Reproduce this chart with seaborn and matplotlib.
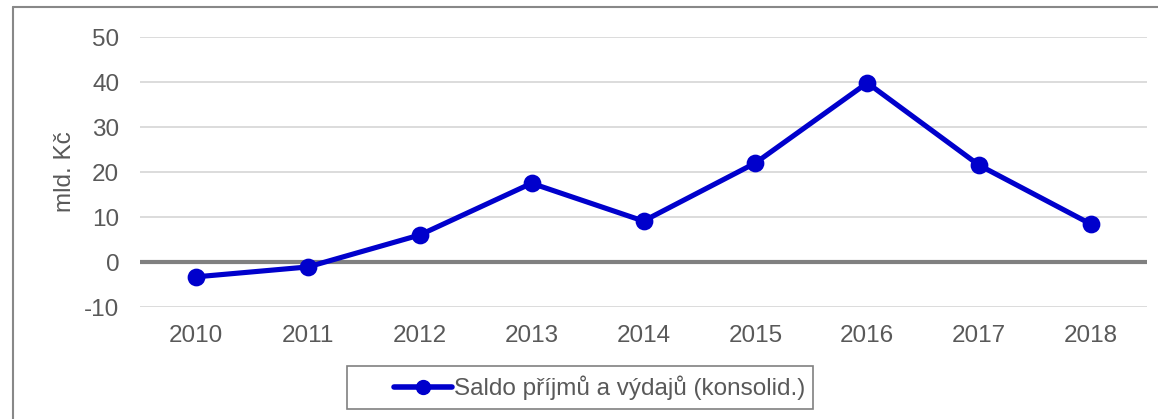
import matplotlib.pyplot as plt
import pandas as pd
import seaborn as sns
from matplotlib.lines import Line2D
from matplotlib.patches import Rectangle

years = ['2010', '2011', '2012', '2013', '2014', '2015', '2016', '2017', '2018']
saldo = [-3.3, -1.1, 6.0, 17.5, 9.1, 22.0, 39.8, 21.5, 8.4]
series_name = 'Saldo příjmů a výdajů (konsolid.)'

df = pd.DataFrame({'year': years, 'value': saldo})

sns.set_theme(style='white')
plt.rcParams['font.family'] = ['Liberation Sans', 'DejaVu Sans']
plt.rcParams['axes.unicode_minus'] = False

grey_text = '#595959'
blue = '#0000CC'
W, H = 1158, 419

fig = plt.figure(figsize=(W / 100, H / 100), dpi=100)
ax = fig.add_axes([140 / W, 1 - 307 / H, 1007 / W, 270 / H])

# grid lines
for y in [-10, 10, 20, 30, 40, 50]:
    ax.axhline(y, color='#D9D9D9', linewidth=1.3, zorder=0)
ax.axhline(0, color='#808080', linewidth=3, zorder=1)

sns.pointplot(data=df, x='year', y='value', ax=ax, color=blue,
              markers='o', linestyles='-', markersize=10, linewidth=3.7,
              errorbar=None, zorder=3)

ax.set_xlim(-0.5, len(years) - 0.5)
ax.set_ylim(-10, 50)
ax.set_yticks([-10, 0, 10, 20, 30, 40, 50])
for s in ax.spines.values():
    s.set_visible(False)
ax.tick_params(axis='both', length=0, labelsize=17.5, labelcolor=grey_text)
ax.tick_params(axis='x', pad=13)
ax.tick_params(axis='y', pad=15)
ax.set_xlabel('')
ax.set_ylabel('mld. Kč', fontsize=17.5, color=grey_text, labelpad=6)

# legend box (frame drawn separately to match the wide box)
fig.add_artist(Rectangle((347 / W, 1 - 409 / H), 466 / W, 43 / H,
                         facecolor='white', edgecolor='#808080', linewidth=1.2))
handle = Line2D([0], [0], color=blue, linewidth=4, marker='o', markersize=10)
leg = fig.legend([handle], [series_name], loc='center left',
                 bbox_to_anchor=(394 / W, 1 - 388 / H),
                 fontsize=17.5, frameon=False, handlelength=2.4,
                 handletextpad=0.05, borderpad=0, borderaxespad=0)
for t in leg.get_texts():
    t.set_color(grey_text)

# outer chart frame
fig.add_artist(Line2D([13 / W, 13 / W], [0, 1 - 7 / H], color='#888888', linewidth=1.5))
fig.add_artist(Line2D([13 / W, 1], [1 - 7 / H, 1 - 7 / H], color='#888888', linewidth=1.5))

fig.savefig('out.png', dpi=100)
